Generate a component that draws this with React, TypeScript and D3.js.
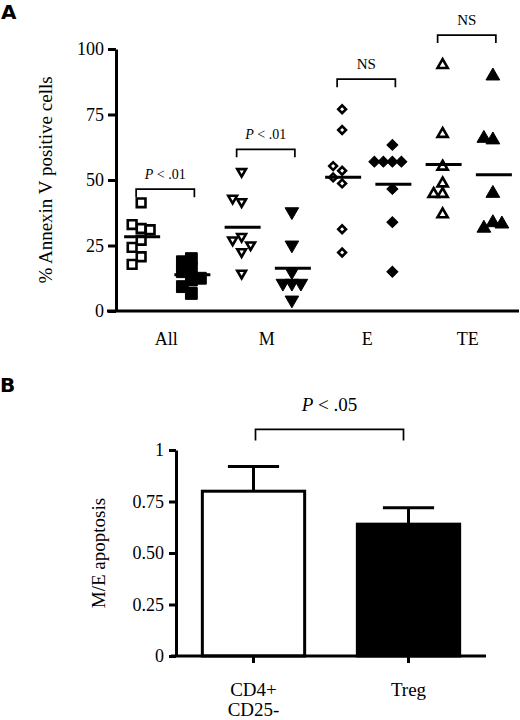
import React, { useEffect, useRef } from 'react';
import * as d3 from 'd3';

// panel A: % annexin V positive cells, open = CD4+CD25-, filled = Treg
const categories = ['All', 'M', 'E', 'TE'];
const openAll = [41.3, 31.5, 33, 31, 27, 24.3, 20.7, 17.8];
const filledAll = [20, 18.8, 16.3, 15, 11.8, 12.5, 9.3, 6.7];
const openM = [53.2, 41.7, 43, 28.4, 27.1, 25.2, 22.6, 14.4];
const filledM = [37.9, 25.2, 15, 10.6, 10.6, 10.6, 4.2];
const openE = [77, 69.1, 53.5, 55.3, 51, 48.7, 31.2, 22.3];
const filledE = [63.4, 57, 57, 57, 57, 46.6, 33.9, 15];
const openTE = [93.9, 67.6, 55.1, 48.7, 44.7, 44.7, 36.9];
const filledTE = [89.7, 65.3, 65.9, 44.9, 33.7, 31.6, 33.2];
const openSeries = [openAll, openM, openE, openTE];
const filledSeries = [filledAll, filledM, filledE, filledTE];
const bracketLevelsA = [46.5, 61.7, 88.5, 105.3];
const bracketLabelsA = ['P < .01', 'P < .01', 'NS', 'NS'];
const yTicksA = [0, 25, 50, 75, 100];

// panel B: M/E apoptosis ratio
const barCategories = ['CD4+|CD25-', 'Treg'];
const barMeans = [0.8, 0.64];
const barErrors = [0.12, 0.08];
const yTicksB = [0, 0.25, 0.5, 0.75, 1];
const yTickLabelsB = ['0', '0.25', '0.50', '0.75', '1'];
const bracketLevelB = 1.1;
const bracketLabelB = 'P < .05';

const serif = '"Liberation Serif", "Times New Roman", serif';
const sans = '"DejaVu Sans", "Liberation Sans", sans-serif';

// marker per category: [open, filled]
const markers = [
	{ type: d3.symbolSquare, sizes: [76, 140], rotate: 0 },
	{ type: d3.symbolTriangle, sizes: [33, 80], rotate: 180 },
	{ type: d3.symbolSquare, sizes: [30, 60], rotate: 45 },
	{ type: d3.symbolTriangle, sizes: [45, 82], rotate: 0 },
];

function addPText(sel: d3.Selection<SVGTextElement, unknown, null, undefined>, label: string) {
	if (label.startsWith('P ')) {
		sel.append('tspan').style('font-style', 'italic').text('P');
		sel.append('tspan').text(label.slice(1));
	} else {
		sel.text(label);
	}
}

// spread points sideways so that close values do not sit on top of each other
function dodge(ys: number[], step: number, r: number): number[] {
	const placed: { dx: number; y: number }[] = [];
	return ys.map((yv) => {
		let k = 0;
		let dx = 0;
		for (;;) {
			const cand = k === 0 ? 0 : (k % 2 === 1 ? -1 : 1) * Math.ceil(k / 2) * step;
			const hit = placed.some((p) => Math.abs(p.y - yv) < r && Math.abs(p.dx - cand) < r);
			if (!hit) { dx = cand; break; }
			k++;
		}
		placed.push({ dx, y: yv });
		return dx;
	});
}

function Figure(): JSX.Element {
	const ref = useRef<SVGSVGElement | null>(null);
	useEffect(() => {
		document.body.style.margin = '0';
		if (!ref.current) return;
		const svg = d3.select(ref.current);
		svg.selectAll('*').remove();

		// ---------- panel A ----------
		svg.append('text').attr('x', 1).attr('y', 19).style('font-family', sans).style('font-weight', 700)
			.style('font-size', '20px').text('A');

		const x = d3.scaleBand(categories, [116, 518]);
		const subX = (i: number, k: number) => (x(categories[i]) || 0) + x.bandwidth() * (k === 0 ? 0.25 : 0.75);
		const y = d3.scaleLinear([0, 100], [311, 49]);
		const gA = svg.append('g');

		categories.forEach((c, i) => {
			const m = markers[i];
			[openSeries[i], filledSeries[i]].forEach((vals, k) => {
				const cx = subX(i, k);
				const offs = dodge(vals.map((v) => y(v)), 9, 9);
				const sym = d3.symbol(m.type, m.sizes[k]);
				gA.selectAll(null).data(vals).enter().append('path')
					.attr('d', sym() as string)
					.attr('transform', (d, j) => `translate(${cx + offs[j]},${y(d)}) rotate(${m.rotate})`)
					.attr('fill', k === 0 ? '#fff' : '#000')
					.attr('stroke', '#000')
					.attr('stroke-width', k === 0 ? 2.6 : 1)
					.attr('stroke-linejoin', 'miter');
				const mean = d3.mean(vals) || 0;
				gA.append('line').attr('x1', cx - 17).attr('x2', cx + 19).attr('y1', y(mean)).attr('y2', y(mean))
					.attr('stroke', '#000').attr('stroke-width', 3);
			});
			// significance bracket
			const bx1 = subX(i, 0) - 5;
			const bx2 = subX(i, 1) + 3;
			const by = y(bracketLevelsA[i]);
			gA.append('path').attr('d', `M${bx1},${by + 8}V${by}H${bx2}V${by + 8}`)
				.attr('fill', 'none').attr('stroke', '#000').attr('stroke-width', 1.7);
			const t = gA.append('text').attr('x', (bx1 + bx2) / 2).attr('y', by - 10).attr('text-anchor', 'middle')
				.style('font-family', serif).style('font-size', bracketLabelsA[i] === 'NS' ? '15px' : '14px');
			addPText(t, bracketLabelsA[i]);
			gA.append('text').attr('x', (x(c) || 0) + x.bandwidth() / 2).attr('y', 345).attr('text-anchor', 'middle')
				.style('font-family', serif).style('font-size', '18px').text(c);
		});

		gA.append('line').attr('x1', 107).attr('x2', 519).attr('y1', y(0)).attr('y2', y(0))
			.attr('stroke', '#000').attr('stroke-width', 3);
		gA.append('g').attr('transform', 'translate(116,0)')
			.call(d3.axisLeft(y).tickValues(yTicksA).tickSize(8).tickSizeOuter(0).tickPadding(4))
			.call((s) => s.selectAll('path, line').attr('stroke', '#000').attr('stroke-width', 3))
			.call((s) => s.selectAll('text').style('font-family', serif).style('font-size', '18px').attr('fill', '#000'));
		gA.append('text').attr('transform', `translate(52,${(y(0) + y(100)) / 2}) rotate(-90)`)
			.attr('text-anchor', 'middle').style('font-family', serif).style('font-size', '19px')
			.text('% Annexin V positive cells');

		// ---------- panel B ----------
		svg.append('text').attr('x', 0).attr('y', 392).style('font-family', sans).style('font-weight', 700)
			.style('font-size', '20px').text('B');

		const xb = d3.scaleBand(barCategories, [176, 486]);
		const yb = d3.scaleLinear([0, 1], [656, 450]);
		const gB = svg.append('g');
		const bw = xb.bandwidth() * 0.66;
		const cen = (c: string) => (xb(c) || 0) + xb.bandwidth() / 2;

		barCategories.forEach((c, i) => {
			const cx = cen(c);
			gB.append('line').attr('x1', cx).attr('x2', cx).attr('y1', yb(barMeans[i])).attr('y2', yb(barMeans[i] + barErrors[i]))
				.attr('stroke', '#000').attr('stroke-width', 3);
			gB.append('line').attr('x1', cx - bw / 4).attr('x2', cx + bw / 4)
				.attr('y1', yb(barMeans[i] + barErrors[i])).attr('y2', yb(barMeans[i] + barErrors[i]))
				.attr('stroke', '#000').attr('stroke-width', 3);
			gB.append('rect').attr('x', cx - bw / 2).attr('width', bw).attr('y', yb(barMeans[i]))
				.attr('height', yb(0) - yb(barMeans[i]))
				.attr('fill', i === 0 ? '#fff' : '#000').attr('stroke', '#000').attr('stroke-width', 3);
			const lines = c.split('|');
			const t = gB.append('text').attr('x', cx).attr('y', 696).attr('text-anchor', 'middle')
				.style('font-family', serif).style('font-size', '19px');
			lines.forEach((ln, j) => t.append('tspan').attr('x', cx).attr('dy', j === 0 ? 0 : 20).text(ln));
		});

		gB.append('g').attr('transform', `translate(0,${yb(0)})`)
			.call(d3.axisBottom(xb).tickSize(7).tickSizeOuter(0).tickFormat(() => ''))
			.call((s) => s.select('.domain').remove())
			.call((s) => s.selectAll('line').attr('stroke', '#000').attr('stroke-width', 3));
		gB.append('line').attr('x1', 171).attr('x2', 486).attr('y1', yb(0)).attr('y2', yb(0))
			.attr('stroke', '#000').attr('stroke-width', 3);
		gB.append('g').attr('transform', 'translate(176,0)')
			.call(d3.axisLeft(yb).tickValues(yTicksB).tickSize(7).tickSizeOuter(0).tickPadding(5)
				.tickFormat((d, j) => yTickLabelsB[j]))
			.call((s) => s.selectAll('path, line').attr('stroke', '#000').attr('stroke-width', 3))
			.call((s) => s.selectAll('text').style('font-family', serif).style('font-size', '18px').attr('fill', '#000'));
		gB.append('text').attr('transform', `translate(105,${(yb(0) + yb(1)) / 2}) rotate(-90)`)
			.attr('text-anchor', 'middle').style('font-family', serif).style('font-size', '19px').text('M/E apoptosis');

		const b1 = cen(barCategories[0]) + 2;
		const b2 = cen(barCategories[1]) - 5;
		const byB = yb(bracketLevelB);
		gB.append('path').attr('d', `M${b1},${byB + 11}V${byB}H${b2}V${byB + 11}`)
			.attr('fill', 'none').attr('stroke', '#000').attr('stroke-width', 1.7);
		const tb = gB.append('text').attr('x', (b1 + b2) / 2).attr('y', byB - 18).attr('text-anchor', 'middle')
			.style('font-family', serif).style('font-size', '19px');
		addPText(tb, bracketLabelB);
	}, []);
	return <svg ref={ref} width={520} height={720} style={{ display: 'block', background: '#fff' }} />;
}

export default function App(): JSX.Element {
	return <Figure />;
}
